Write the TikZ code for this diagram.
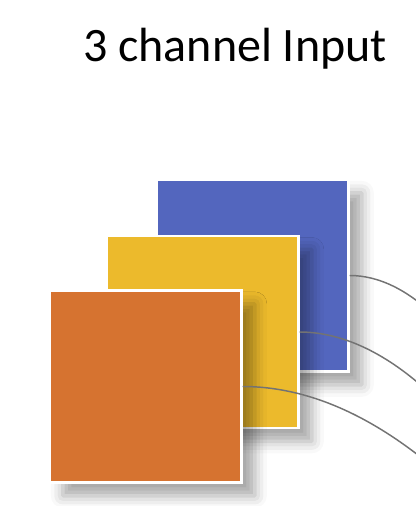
\documentclass[tikz,border=0pt]{standalone}
\usepackage{fontspec}
\setmainfont{Carlito}
\usepackage{xcolor}
\usepackage{tikz}
\usetikzlibrary{shadows.blur}
\definecolor{kblau}{RGB}{83,102,190}
\definecolor{kgelb}{RGB}{236,186,44}
\definecolor{korange}{RGB}{214,115,48}
\begin{document}
\begin{tikzpicture}[x=0.75pt,y=-0.75pt,
  kanal/.style={draw=white,line width=1.6pt,minimum size=144pt,inner sep=0pt,
    blur shadow={shadow xshift=10pt,shadow yshift=-10pt,shadow blur radius=9pt,shadow opacity=35}},
  wire/.style={draw=black!55,line width=1.1pt}]
\clip (0,0) rectangle (416,506);
\node[font=\fontsize{36}{40}\selectfont,anchor=base] (titel) at (235,62) {3 channel Input};
% blue channel
\node[kanal,fill=kblau] (blau) at (252.5,275.5) {};
\coordinate (eblau) at (440,321);
\draw[wire] (blau.east) .. controls (379,275.5) and (409,290) .. (eblau);
% yellow channel
\node[kanal,fill=kgelb] (gelb) at (202.5,332) {};
\coordinate (egelb) at (440,403);
\draw[wire] (gelb.east) .. controls (345,332) and (393,356) .. (egelb);
% orange channel
\node[kanal,fill=korange] (orange) at (145.5,386.5) {};
\coordinate (eorange) at (440,473);
\draw[wire] (orange.east) .. controls (308,386.5) and (374,416) .. (eorange);
\end{tikzpicture}
\end{document}
